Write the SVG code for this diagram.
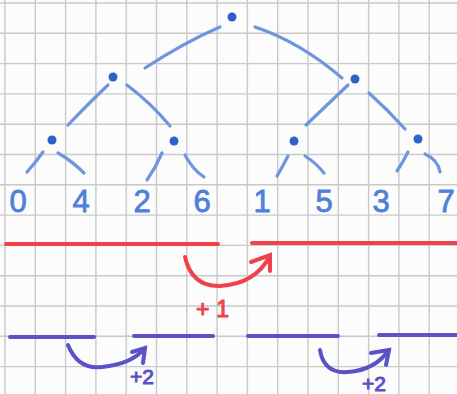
<svg xmlns="http://www.w3.org/2000/svg" width="457" height="394" viewBox="0 0 457 394">
<style>
.grid{stroke:#c9c9c9;stroke-width:1.4;fill:none}
.edge{stroke:#6d96dc;stroke-width:3.2;fill:none;stroke-linecap:round}
.dot{fill:#2f62c9}
.digit{font-family:"Liberation Sans",Arial,sans-serif;font-size:31px;fill:#4f80da;text-anchor:middle;stroke:#4f80da;stroke-width:0.8}
.red{stroke:#f0424b;stroke-width:4;fill:none;stroke-linecap:round}
.blue{stroke:#5a52c6;stroke-width:4;fill:none;stroke-linecap:round}
.redt{font-family:"Liberation Sans",Arial,sans-serif;font-size:23px;fill:#f0424b;stroke:#f0424b;stroke-width:1;text-anchor:middle}
.bluet{font-family:"Liberation Sans",Arial,sans-serif;font-size:21px;fill:#5a52c6;stroke:#5a52c6;stroke-width:1;text-anchor:middle}
</style>
<rect width="457" height="394" fill="#fcfcfc"/>
<path class="grid" d="M5 0V394M35.3 0V394M65.6 0V394M95.9 0V394M126.2 0V394M156.5 0V394M186.8 0V394M217.1 0V394M247.4 0V394M277.7 0V394M308 0V394M338.3 0V394M368.6 0V394M398.9 0V394M429.2 0V394M0 3H457M0 33.3H457M0 63.6H457M0 93.9H457M0 124.2H457M0 154.5H457M0 184.8H457M0 215.1H457M0 245.4H457M0 275.7H457M0 306H457M0 336.3H457M0 366.6H457"/>
<g id="connectors">
<path class="edge" d="M220 27 Q185 42 145 68"/>
<path class="edge" d="M255 27 Q300 42 342 78"/>
<path class="edge" d="M108 85 Q90 102 68 125"/>
<path class="edge" d="M127 85 Q152 104 170 126"/>
<path class="edge" d="M348 85 Q328 104 306 125"/>
<path class="edge" d="M369 93 Q388 110 405 129"/>
<path class="edge" d="M43 152 Q36 162 27 172"/>
<path class="edge" d="M58 153 Q72 161 84 173"/>
<path class="edge" d="M162 153 Q156 167 147 180"/>
<path class="edge" d="M185 155 Q193 170 204 177"/>
<path class="edge" d="M288 156 Q283 166 277 176"/>
<path class="edge" d="M305 156 Q316 163 324 173"/>
<path class="edge" d="M408 152 Q403 162 397 171"/>
<path class="edge" d="M425 154 Q438 160 440 172"/>
<path class="red" d="M185 257 Q192 287 220 286 Q255 284 270 256"/>
<path class="red" d="M251 262 L270 255 L270 271"/>
<path class="blue" d="M68 345 Q78 370 102 367 Q132 364 145 348"/>
<path class="blue" d="M132 352 L145 348 L143 363"/>
<path class="blue" d="M320 350 Q324 374 348 372 Q375 370 389 350"/>
<path class="blue" d="M371 353 L389 350 L386 365"/>
</g>
<g id="root"><circle class="dot" cx="232" cy="17" r="4.5"/></g>
<g id="n-left"><circle class="dot" cx="113" cy="77" r="4.5"/></g>
<g id="n-right"><circle class="dot" cx="355" cy="79" r="4.5"/></g>
<g id="n-ll"><circle class="dot" cx="52" cy="140" r="4.5"/></g>
<g id="n-lr"><circle class="dot" cx="174" cy="141" r="4.5"/></g>
<g id="n-rl"><circle class="dot" cx="294" cy="141" r="4.5"/></g>
<g id="n-rr"><circle class="dot" cx="418" cy="139" r="4.5"/></g>
<g id="leaf-0"><text class="digit" x="18" y="212">0</text></g>
<g id="leaf-4"><text class="digit" x="81" y="212">4</text></g>
<g id="leaf-2"><text class="digit" x="142" y="212">2</text></g>
<g id="leaf-6"><text class="digit" x="202" y="212">6</text></g>
<g id="leaf-1"><text class="digit" x="262" y="212">1</text></g>
<g id="leaf-5"><text class="digit" x="324" y="212">5</text></g>
<g id="leaf-3"><text class="digit" x="381" y="212">3</text></g>
<g id="leaf-7"><text class="digit" x="446" y="212">7</text></g>
<g id="red-bars">
<path class="red" d="M6 244H218"/>
<path class="red" d="M252 243H458"/>
</g>
<g id="blue-bars">
<path class="blue" d="M10 337H94"/>
<path class="blue" d="M134 336H213"/>
<path class="blue" d="M248 336H338"/>
<path class="blue" d="M379 335H458"/>
</g>
<g id="label-plus1"><text class="redt" x="216" y="317" letter-spacing="7">+1</text></g>
<g id="label-plus2-a"><text class="bluet" x="142" y="384">+2</text></g>
<g id="label-plus2-b"><text class="bluet" x="374" y="391">+2</text></g>
</svg>
